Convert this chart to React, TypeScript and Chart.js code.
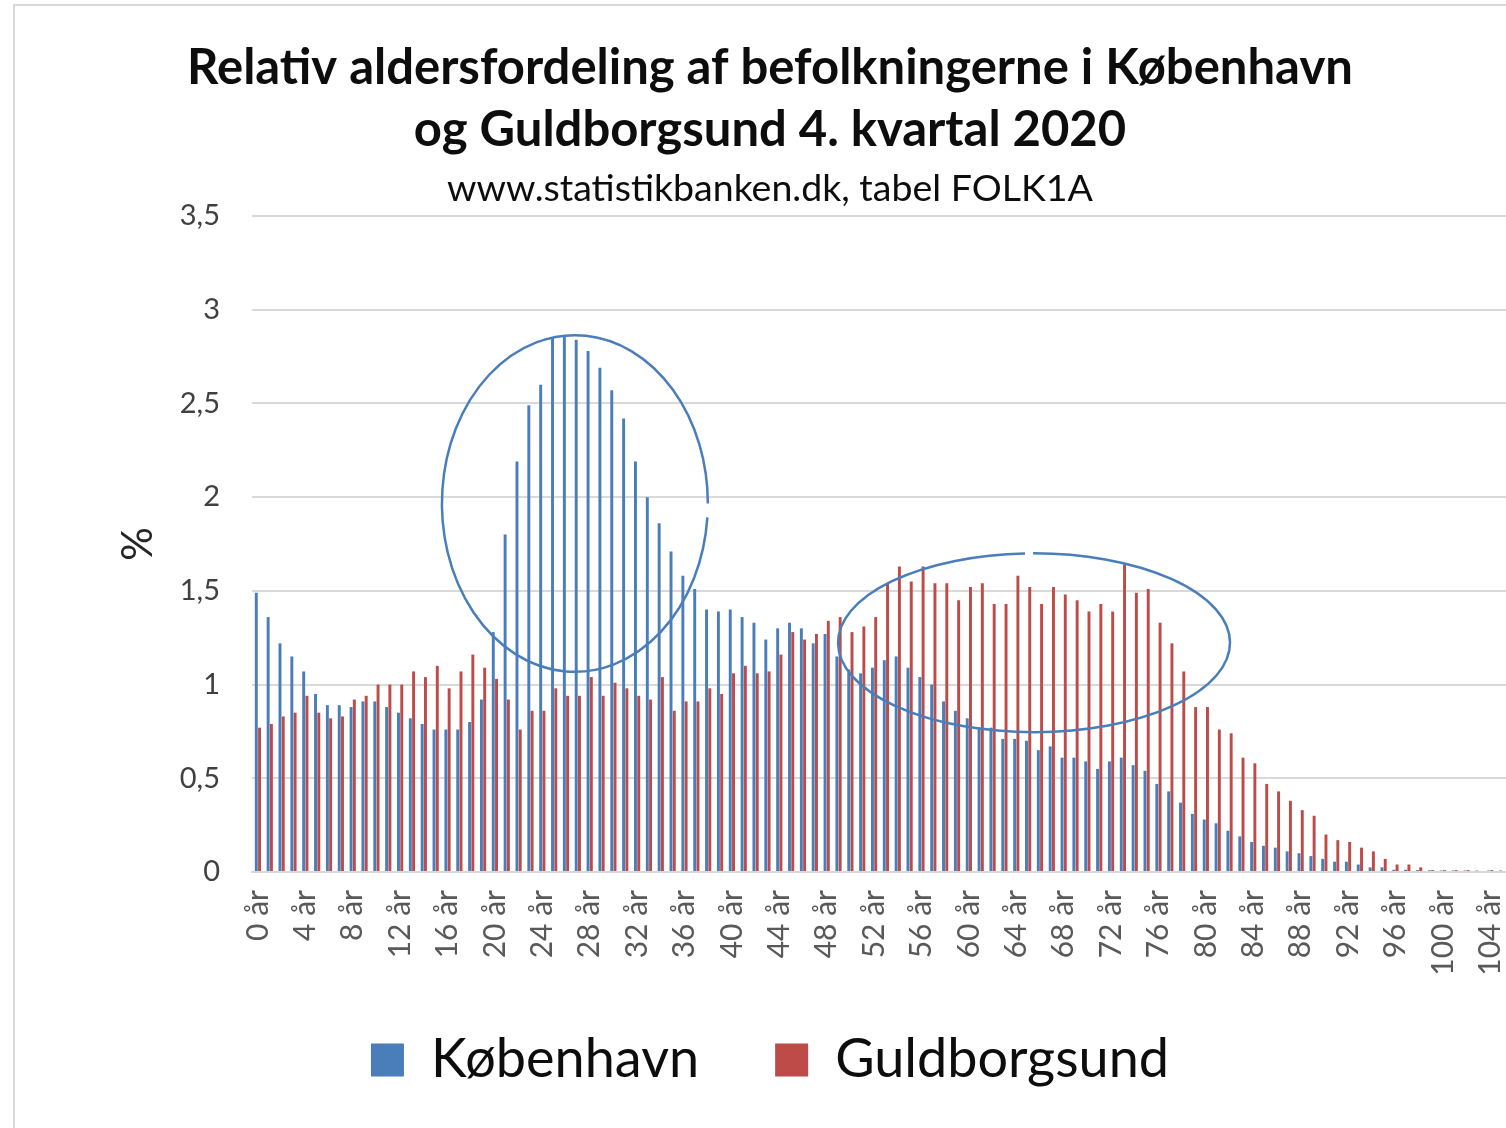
import React, { useEffect, useRef } from 'react';
import { Chart, registerables } from 'chart.js';

Chart.register(...registerables);

const titleLines = [
  'Relativ aldersfordeling af befolkningerne i København',
  'og Guldborgsund 4. kvartal 2020',
];
const subtitleText = 'www.statistikbanken.dk, tabel FOLK1A';
const yAxisTitle = '%';
const seriesNames = ['København', 'Guldborgsund'];

const ageLabels = [
  '0 år', '1 år', '2 år', '3 år', '4 år', '5 år', '6 år', '7 år', '8 år', '9 år',
  '10 år', '11 år', '12 år', '13 år', '14 år', '15 år', '16 år', '17 år', '18 år', '19 år',
  '20 år', '21 år', '22 år', '23 år', '24 år', '25 år', '26 år', '27 år', '28 år', '29 år',
  '30 år', '31 år', '32 år', '33 år', '34 år', '35 år', '36 år', '37 år', '38 år', '39 år',
  '40 år', '41 år', '42 år', '43 år', '44 år', '45 år', '46 år', '47 år', '48 år', '49 år',
  '50 år', '51 år', '52 år', '53 år', '54 år', '55 år', '56 år', '57 år', '58 år', '59 år',
  '60 år', '61 år', '62 år', '63 år', '64 år', '65 år', '66 år', '67 år', '68 år', '69 år',
  '70 år', '71 år', '72 år', '73 år', '74 år', '75 år', '76 år', '77 år', '78 år', '79 år',
  '80 år', '81 år', '82 år', '83 år', '84 år', '85 år', '86 år', '87 år', '88 år', '89 år',
  '90 år', '91 år', '92 år', '93 år', '94 år', '95 år', '96 år', '97 år', '98 år', '99 år',
  '100 år', '101 år', '102 år', '103 år', '104 år', '105 år',
];

const kobenhavn = [
  1.49, 1.36, 1.22, 1.15, 1.07, 0.95, 0.89, 0.89, 0.88, 0.91,
  0.91, 0.88, 0.85, 0.82, 0.79, 0.76, 0.76, 0.76, 0.80, 0.92,
  1.28, 1.80, 2.19, 2.49, 2.60, 2.85, 2.86, 2.84, 2.78, 2.69,
  2.57, 2.42, 2.19, 2.00, 1.86, 1.71, 1.58, 1.51, 1.40, 1.39,
  1.40, 1.36, 1.33, 1.24, 1.30, 1.33, 1.30, 1.22, 1.27, 1.15,
  1.08, 1.06, 1.09, 1.13, 1.15, 1.09, 1.04, 1.00, 0.91, 0.86,
  0.82, 0.77, 0.77, 0.71, 0.71, 0.70, 0.65, 0.67, 0.61, 0.61,
  0.59, 0.55, 0.59, 0.61, 0.57, 0.54, 0.47, 0.43, 0.37, 0.31,
  0.28, 0.26, 0.22, 0.19, 0.16, 0.14, 0.13, 0.11, 0.10, 0.085,
  0.07, 0.055, 0.055, 0.04, 0.025, 0.025, 0.012, 0.012, 0.01, 0.009,
  0.008, 0.008, 0.008, 0.008, 0.008, 0.008,
];

const guldborgsund = [
  0.77, 0.79, 0.83, 0.85, 0.94, 0.85, 0.82, 0.83, 0.92, 0.94,
  1.00, 1.00, 1.00, 1.07, 1.04, 1.10, 0.98, 1.07, 1.16, 1.09,
  1.03, 0.92, 0.76, 0.86, 0.86, 0.98, 0.94, 0.94, 1.04, 0.94,
  1.01, 0.98, 0.94, 0.92, 1.04, 0.86, 0.91, 0.91, 0.98, 0.95,
  1.06, 1.10, 1.06, 1.07, 1.16, 1.28, 1.24, 1.27, 1.34, 1.36,
  1.28, 1.31, 1.36, 1.54, 1.63, 1.55, 1.63, 1.54, 1.54, 1.45,
  1.52, 1.54, 1.43, 1.43, 1.58, 1.52, 1.43, 1.52, 1.48, 1.45,
  1.39, 1.43, 1.39, 1.64, 1.49, 1.51, 1.33, 1.22, 1.07, 0.88,
  0.88, 0.76, 0.74, 0.61, 0.58, 0.47, 0.43, 0.38, 0.33, 0.30,
  0.20, 0.17, 0.16, 0.13, 0.11, 0.07, 0.04, 0.04, 0.025, 0.01,
  0.01, 0.01, 0.01, 0, 0.01, 0,
];

const yTickValues = [0, 0.5, 1, 1.5, 2, 2.5, 3, 3.5];
const labelEvery = 4;

// Highlight ellipses in data units: centre (category index, %), radii (categories, %), gap (angle range)
const ellipseCx = [26.75, 65.5];
const ellipseCy = [1.966, 1.223];
const ellipseRx = [11.22, 16.54];
const ellipseRy = [0.898, 0.477];
const ellipseGapFrom = [0, 1.5 * Math.PI - 0.046];
const ellipseGapTo = [0.083, 1.5 * Math.PI - 0.005];

const BLUE = '#4A7EBB';
const RED = '#BE4B48';
const FONT = 'Lato, "Open Sans", sans-serif';

const CANVAS_W = 1520;
const CANVAS_H = 1140;

const decorPlugin = {
  id: 'decor',
  beforeDraw(chart: any) {
    const ctx = chart.ctx;
    ctx.save();
    ctx.fillStyle = '#ffffff';
    ctx.fillRect(0, 0, chart.width, chart.height);
    ctx.strokeStyle = '#D9D9D9';
    ctx.lineWidth = 2;
    ctx.strokeRect(14, 5, chart.width + 20, chart.height + 20);
    ctx.restore();
  },
  afterDraw(chart: any) {
    const ctx = chart.ctx;
    const xs = chart.scales.x;
    const ys = chart.scales.y;
    ctx.save();
    ctx.strokeStyle = BLUE;
    ctx.lineWidth = 2.5;
    for (let k = 0; k < ellipseCx.length; k++) {
      const px = xs.getPixelForValue(ellipseCx[k]);
      const py = ys.getPixelForValue(ellipseCy[k]);
      const rxp = Math.abs(xs.getPixelForValue(ellipseCx[k] + ellipseRx[k]) - px);
      const ryp = Math.abs(ys.getPixelForValue(ellipseCy[k] + ellipseRy[k]) - py);
      ctx.beginPath();
      ctx.ellipse(px, py, rxp, ryp, 0, ellipseGapTo[k], ellipseGapFrom[k] + 2 * Math.PI);
      ctx.stroke();
    }
    ctx.restore();
  },
};

export default function App() {
  const canvasRef = useRef<HTMLCanvasElement | null>(null);

  useEffect(() => {
    if (!canvasRef.current) return;
    const chart = new Chart(canvasRef.current, {
      type: 'bar',
      data: {
        labels: ageLabels,
        datasets: [
          {
            label: seriesNames[0],
            data: kobenhavn,
            backgroundColor: BLUE,
            borderWidth: 0,
            categoryPercentage: 0.55,
            barPercentage: 0.9,
          },
          {
            label: seriesNames[1],
            data: guldborgsund,
            backgroundColor: RED,
            borderWidth: 0,
            categoryPercentage: 0.55,
            barPercentage: 0.9,
          },
        ],
      },
      options: {
        responsive: false,
        animation: false,
        devicePixelRatio: 1,
        layout: { padding: { left: 32, right: 12, top: 0, bottom: 43 } },
        plugins: {
          title: {
            display: true,
            text: titleLines,
            color: '#0D0D0D',
            font: { family: FONT, size: 49, weight: 'bold', lineHeight: 1.265 },
            padding: { top: 37, bottom: 0 },
          },
          subtitle: {
            display: true,
            text: subtitleText,
            color: '#0D0D0D',
            font: { family: FONT, size: 37.5, lineHeight: 1.2 },
            padding: { top: 5, bottom: 5 },
          },
          legend: {
            position: 'bottom',
            labels: {
              boxWidth: 33,
              boxHeight: 33,
              padding: 76,
              color: '#0D0D0D',
              font: { family: FONT, size: 54 },
            },
          },
          tooltip: { enabled: false },
        },
        scales: {
          x: {
            grid: { display: false, drawTicks: false },
            border: { display: true, color: '#D9D9D9', width: 2 },
            ticks: {
              autoSkip: false,
              minRotation: 90,
              maxRotation: 90,
              padding: 18,
              color: '#595959',
              font: { family: FONT, size: 30 },
              callback: (_v: any, i: number) => (i % labelEvery === 0 ? ageLabels[i] : ''),
            },
            afterFit: (s: any) => {
              s.height = 85;
              s.paddingLeft = 0;
              s.paddingRight = 0;
              s._computeLabelArea = () => undefined;
            },
          },
          y: {
            min: yTickValues[0],
            max: yTickValues[yTickValues.length - 1],
            afterBuildTicks: (s: any) => {
              s.ticks = yTickValues.map((v) => ({ value: v }));
            },
            grid: { color: '#D9D9D9', lineWidth: 2, drawTicks: false },
            border: { display: false },
            ticks: {
              padding: 32,
              color: '#404040',
              font: { family: FONT, size: 29 },
              callback: (v: any) => String(v).replace('.', ','),
            },
            title: {
              display: true,
              text: yAxisTitle,
              color: '#262626',
              font: { family: FONT, size: 42 },
              padding: { top: 81, bottom: 0 },
            },
            afterFit: (s: any) => {
              s.width = 220;
            },
          },
        },
      } as any,
      plugins: [decorPlugin],
    });
    return () => chart.destroy();
  }, []);

  return (
    <div
      style={{
        position: 'fixed',
        left: 0,
        top: 0,
        width: 1506,
        height: 1128,
        overflow: 'hidden',
        background: '#ffffff',
      }}
    >
      <canvas ref={canvasRef} width={CANVAS_W} height={CANVAS_H} style={{ display: 'block' }} />
    </div>
  );
}
